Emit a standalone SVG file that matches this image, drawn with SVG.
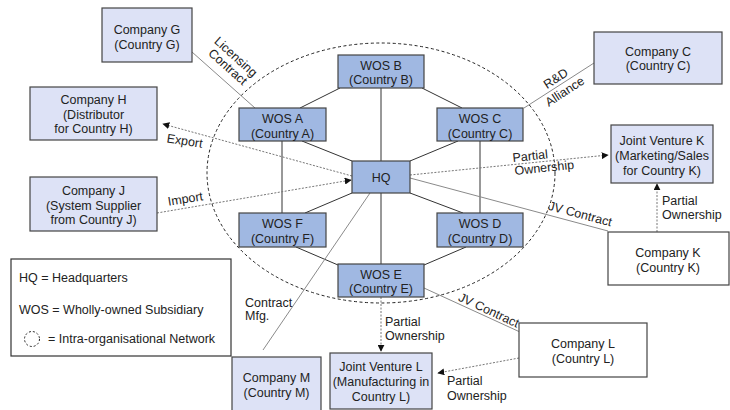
<svg xmlns="http://www.w3.org/2000/svg" width="730" height="410" viewBox="0 0 730 410">
<defs>
<style>
text{font-family:"Liberation Sans",Arial,sans-serif;font-size:12.5px;fill:#222}
.c{text-anchor:middle}
.ext{fill:#dde2f6;stroke:#444;stroke-width:1.2}
.wht{fill:#fff;stroke:#444;stroke-width:1.2}
.wos{fill:#a0b8e2;stroke:#444;stroke-width:1.2}
.in{stroke:#333;stroke-width:1;fill:none}
.ex{stroke:#8a8a8a;stroke-width:1;fill:none}
.dot{stroke:#777;stroke-width:1;stroke-dasharray:2 1.5;fill:none}
.net{stroke:#222;stroke-width:1;stroke-dasharray:3 2.5;fill:none}
</style>
<marker id="ah" viewBox="0 0 10 10" refX="9" refY="5" markerWidth="7" markerHeight="7" markerUnits="userSpaceOnUse" orient="auto">
<path d="M0,0 L10,5 L0,10 z" fill="#111"/>
</marker>
</defs>
<rect width="730" height="410" fill="#fff"/>

<ellipse class="net" cx="381" cy="173" rx="174" ry="130"/>

<g id="connectors">
<line class="in" x1="381" y1="88" x2="381" y2="161"/>
<line class="in" x1="381" y1="193" x2="381" y2="264"/>
<line class="in" x1="282" y1="141" x2="282" y2="213"/>
<line class="in" x1="480" y1="141" x2="480" y2="213"/>
<line class="in" x1="340" y1="88" x2="300" y2="108"/>
<line class="in" x1="422" y1="88" x2="462" y2="108"/>
<line class="in" x1="302" y1="141" x2="352" y2="161"/>
<line class="in" x1="458" y1="141" x2="410" y2="161"/>
<line class="in" x1="305" y1="213" x2="352" y2="193"/>
<line class="in" x1="463" y1="213" x2="410" y2="193"/>
<line class="in" x1="296" y1="247" x2="338" y2="265"/>
<line class="in" x1="466" y1="247" x2="424" y2="265"/>

<line class="ex" x1="192" y1="52" x2="255" y2="108"/>
<line class="ex" x1="594" y1="63" x2="524" y2="108"/>
<line class="ex" x1="410" y1="178" x2="608" y2="231"/>
<line class="ex" x1="424" y1="288" x2="520" y2="332"/>
<line class="ex" x1="370" y1="193" x2="263" y2="350"/>

<line class="dot" x1="352" y1="176" x2="163" y2="124" marker-end="url(#ah)"/>
<line class="dot" x1="157" y1="213" x2="351" y2="180" marker-end="url(#ah)"/>
<line class="dot" x1="410" y1="175" x2="608" y2="155" marker-end="url(#ah)"/>
<line class="dot" x1="657" y1="232" x2="657" y2="184" marker-end="url(#ah)"/>
<line class="dot" x1="381" y1="297" x2="381" y2="351" marker-end="url(#ah)"/>
<line class="dot" x1="519" y1="358" x2="438" y2="373" marker-end="url(#ah)"/>

<text class="c" transform="translate(233,60) rotate(42)">Licensing</text>
<text class="c" transform="translate(225,70) rotate(42)">Contract</text>
<text class="c" transform="translate(558,82) rotate(-33)">R&amp;D</text>
<text class="c" transform="translate(567,95) rotate(-33)">Alliance</text>
<text class="c" transform="translate(184,145) rotate(9)">Export</text>
<text class="c" transform="translate(186,203) rotate(-9)">Import</text>
<text transform="translate(513,162) rotate(-6)">Partial</text>
<text transform="translate(515,175) rotate(-6)">Ownership</text>
<text class="c" transform="translate(579,218) rotate(15)">JV Contract</text>
<text x="662" y="205">Partial</text>
<text x="662" y="219">Ownership</text>
<text class="c" transform="translate(487,314) rotate(25)">JV Contract</text>
<text x="245" y="307">Contract</text>
<text x="245" y="320">Mfg.</text>
<text x="385" y="326">Partial</text>
<text x="385" y="340">Ownership</text>
<text x="447" y="385">Partial</text>
<text x="447" y="400">Ownership</text>
</g>

<g id="hq"><rect class="wos" x="352" y="161" width="58" height="32"/><text class="c" x="381" y="181.5">HQ</text></g>
<g id="wos-a"><rect class="wos" x="239" y="108" width="87" height="33"/><text class="c" x="282.5" y="123">WOS A</text><text class="c" x="282.5" y="137.5">(Country A)</text></g>
<g id="wos-b"><rect class="wos" x="338" y="55" width="86" height="33"/><text class="c" x="381" y="69.5">WOS B</text><text class="c" x="381" y="84">(Country B)</text></g>
<g id="wos-c"><rect class="wos" x="437" y="108" width="86" height="33"/><text class="c" x="480" y="123">WOS C</text><text class="c" x="480" y="137.5">(Country C)</text></g>
<g id="wos-d"><rect class="wos" x="437" y="213" width="86" height="34"/><text class="c" x="480" y="227.5">WOS D</text><text class="c" x="480" y="242.5">(Country D)</text></g>
<g id="wos-e"><rect class="wos" x="338" y="264" width="86" height="33"/><text class="c" x="381" y="278.5">WOS E</text><text class="c" x="381" y="293">(Country E)</text></g>
<g id="wos-f"><rect class="wos" x="239" y="213" width="87" height="34"/><text class="c" x="282.5" y="227.5">WOS F</text><text class="c" x="282.5" y="242.5">(Country F)</text></g>

<g id="company-g"><rect class="ext" x="102" y="8" width="90" height="54"/><text class="c" x="147" y="33.5">Company G</text><text class="c" x="147" y="48.5">(Country G)</text></g>
<g id="company-h"><rect class="ext" x="30" y="87" width="127" height="53"/><text class="c" x="93.5" y="103.5">Company H</text><text class="c" x="93.5" y="118.5">(Distributor</text><text class="c" x="93.5" y="133">for Country H)</text></g>
<g id="company-j"><rect class="ext" x="30" y="177" width="127" height="54"/><text class="c" x="93.5" y="194.5">Company J</text><text class="c" x="93.5" y="209.5">(System Supplier</text><text class="c" x="93.5" y="223.5">from Country J)</text></g>
<g id="company-c"><rect class="ext" x="594" y="32" width="128" height="52"/><text class="c" x="658" y="55.5">Company C</text><text class="c" x="658" y="69.5">(Country C)</text></g>
<g id="jv-k"><rect class="ext" x="611" y="125" width="102" height="58"/><text class="c" x="662" y="144.5">Joint Venture K</text><text class="c" x="662" y="159.5">(Marketing/Sales</text><text class="c" x="662" y="174.5">for Country K)</text></g>
<g id="company-k"><rect class="wht" x="608" y="232" width="121" height="53"/><text class="c" x="668" y="256.5">Company K</text><text class="c" x="668" y="271.5">(Country K)</text></g>
<g id="company-l"><rect class="wht" x="519" y="323" width="128" height="54"/><text class="c" x="583" y="347.5">Company L</text><text class="c" x="583" y="362.5">(Country L)</text></g>
<g id="jv-l"><rect class="ext" x="330" y="353" width="102" height="56"/><text class="c" x="381" y="370.5">Joint Venture L</text><text class="c" x="381" y="385.5">(Manufacturing in</text><text class="c" x="381" y="401">Country L)</text></g>
<g id="company-m"><rect class="ext" x="232" y="357" width="89" height="60"/><text class="c" x="276.5" y="381.5">Company M</text><text class="c" x="276.5" y="396.5">(Country M)</text></g>

<g id="legend">
<rect x="11" y="259" width="220" height="97" fill="#fff" stroke="#333" stroke-width="1.2"/>
<text x="19" y="282">HQ = Headquarters</text>
<text x="19" y="314">WOS = Wholly-owned Subsidiary</text>
<circle cx="32" cy="339" r="7.5" fill="none" stroke="#222" stroke-width="1" stroke-dasharray="2 2"/>
<text x="48" y="343">= Intra-organisational Network</text>
</g>
</svg>
